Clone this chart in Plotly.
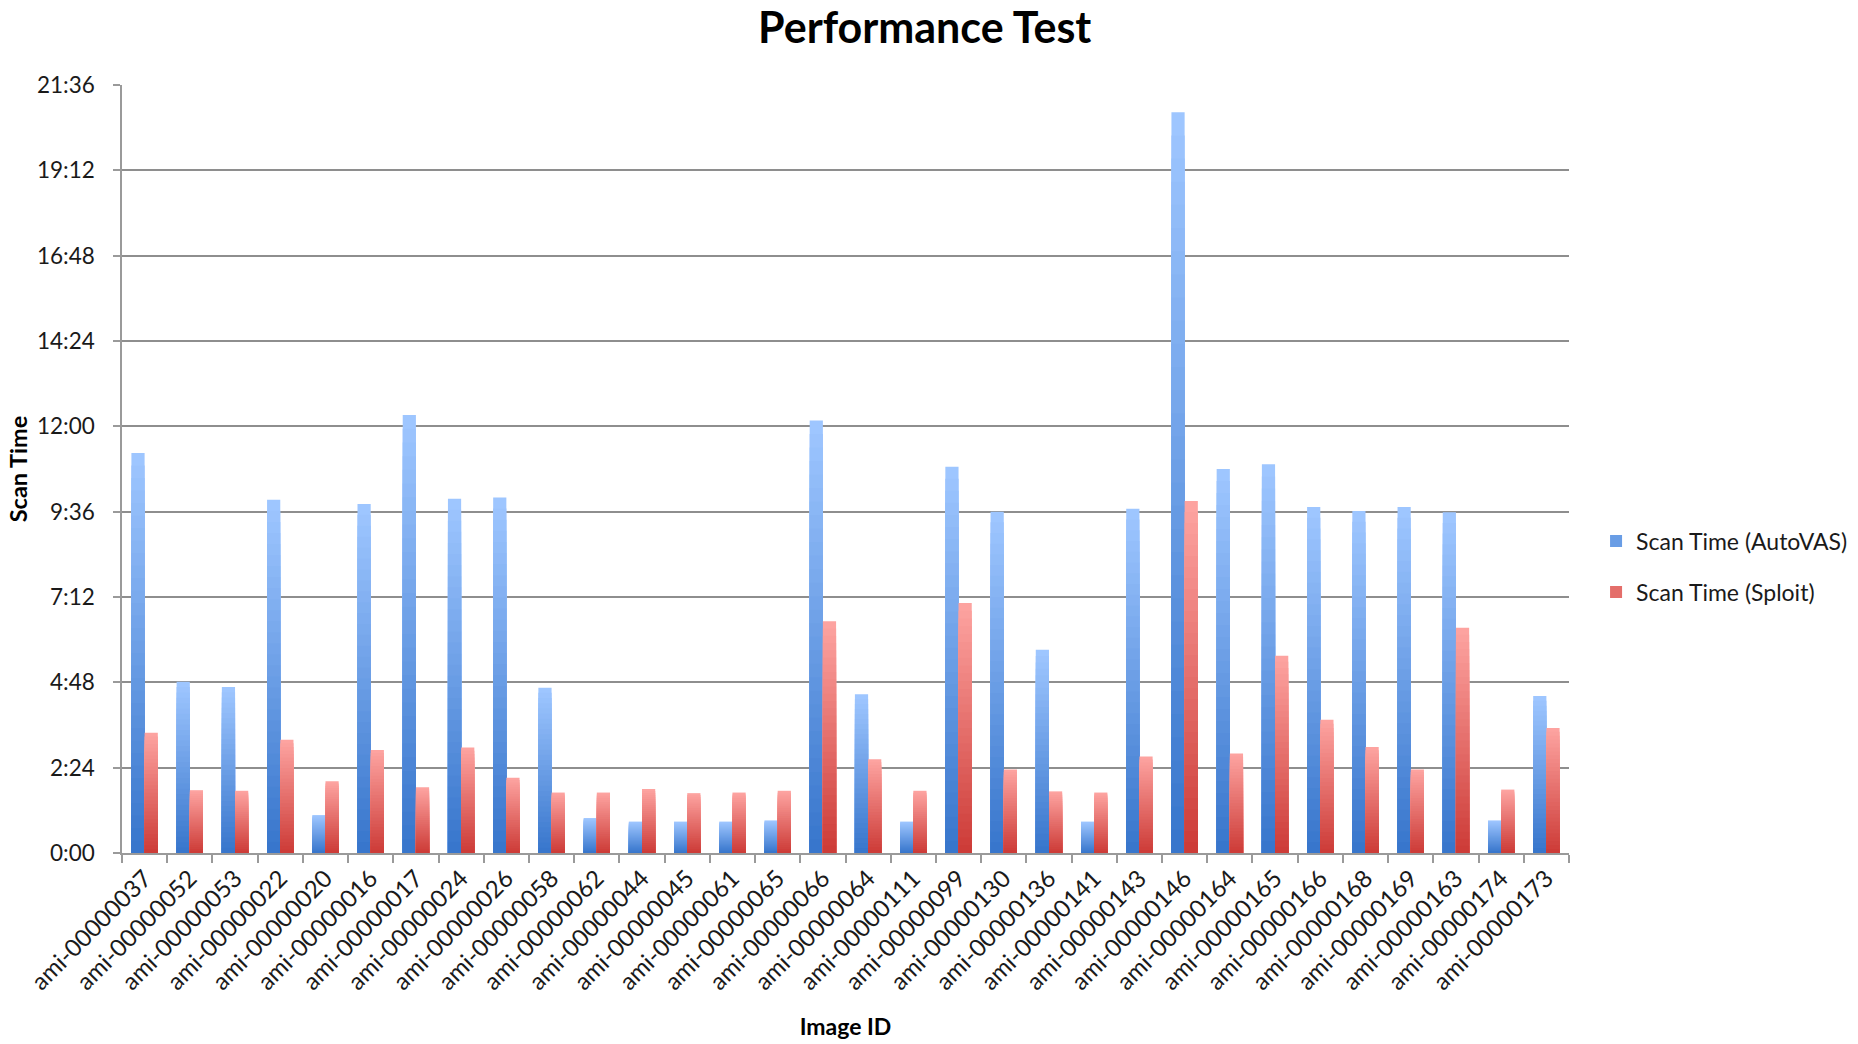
import plotly.graph_objects as go

# Scan time per image, in seconds
image_ids = [
    "ami-00000037", "ami-00000052", "ami-00000053", "ami-00000022", "ami-00000020",
    "ami-00000016", "ami-00000017", "ami-00000024", "ami-00000026", "ami-00000058",
    "ami-00000062", "ami-00000044", "ami-00000045", "ami-00000061", "ami-00000065",
    "ami-00000066", "ami-00000064", "ami-00000111", "ami-00000099", "ami-00000130",
    "ami-00000136", "ami-00000141", "ami-00000143", "ami-00000146", "ami-00000164",
    "ami-00000165", "ami-00000166", "ami-00000168", "ami-00000169", "ami-00000163",
    "ami-00000174", "ami-00000173",
]
autovas_seconds = [
    675, 289, 280, 596, 64, 589, 739, 598, 600, 279,
    59, 53, 53, 53, 55, 730, 268, 53, 652, 576,
    343, 53, 581, 1250, 648, 656, 584, 577, 584, 575,
    55, 265,
]
sploit_seconds = [
    203, 106, 105, 191, 121, 174, 111, 178, 127, 102,
    102, 108, 101, 102, 105, 391, 158, 105, 422, 141,
    104, 102, 163, 594, 168, 333, 225, 179, 141, 380,
    107, 211,
]
tick_seconds = [0, 144, 288, 432, 576, 720, 864, 1008, 1152, 1296]
tick_labels = ["0:00", "2:24", "4:48", "7:12", "9:36", "12:00", "14:24", "16:48", "19:12", "21:36"]

FONT = "Lato, 'Open Sans', sans-serif"
STEPS = 32          # bands used to shade each bar from light (top) to dark (bottom)
BAR_W = 0.292       # bar width in category units


def mmss(sec):
    sec = int(round(sec))
    return f"{sec // 60}:{sec % 60:02d}"


def mix(c1, c2, t):
    return "rgb({},{},{})".format(*[round(a + (b - a) * t) for a, b in zip(c1, c2)])


def add_shaded_series(fig, values, name, top_rgb, bottom_rgb, offset, group):
    for k in range(STEPS):
        frac = (STEPS - k) / STEPS
        t = k / (STEPS - 1)
        fig.add_trace(go.Bar(
            x=image_ids,
            y=[v * frac for v in values],
            offset=offset,
            width=BAR_W,
            name=name,
            legendgroup=group,
            showlegend=(k == STEPS // 2),
            marker=dict(color=mix(top_rgb, bottom_rgb, t), line=dict(width=0)),
            customdata=[mmss(v) for v in values],
            hovertemplate="%{x}<br>" + name + ": %{customdata}<extra></extra>" if k == 0 else None,
            hoverinfo=None if k == 0 else "skip",
        ))


fig = go.Figure()
add_shaded_series(fig, autovas_seconds, "Scan Time (AutoVAS)",
                  (158, 198, 255), (56, 118, 204), -BAR_W, "autovas")
add_shaded_series(fig, sploit_seconds, "Scan Time (Sploit)",
                  (253, 163, 160), (205, 60, 56), 0.0, "sploit")

axis_grey = "#9a9a9a"

fig.update_layout(
    width=1858, height=1044,
    barmode="overlay",
    paper_bgcolor="white", plot_bgcolor="white",
    margin=dict(l=122, r=289, t=85, b=191, autoexpand=False),
    font=dict(family=FONT, color="#1a1a1a"),
    title=dict(
        text="<b>Performance Test</b>",
        font=dict(family=FONT, size=43, color="#000000"),
        x=924.7 / 1858, xref="container", xanchor="center",
        y=1 - 27.5 / 1044, yref="container", yanchor="middle",
    ),
    legend=dict(
        x=1.0187, xanchor="left",
        y=0.373, yanchor="middle",
        font=dict(family=FONT, size=23, color="#1a1a1a"),
        tracegroupgap=18,
        itemclick="toggle", groupclick="togglegroup",
        bgcolor="rgba(0,0,0,0)",
    ),
    xaxis=dict(
        type="category",
        range=[-0.5, len(image_ids) - 0.5],
        showgrid=False,
        showline=True, linecolor=axis_grey, linewidth=1.5,
        ticks="outside", tickson="boundaries", ticklen=8, tickcolor=axis_grey, tickwidth=1.5,
        tickangle=-45,
        tickfont=dict(family=FONT, size=24, color="#1a1a1a"),
        title=dict(text="<b>Image ID</b>", font=dict(family=FONT, size=23, color="#000000"),
                   standoff=25),
        automargin=False,
    ),
    yaxis=dict(
        range=[0, 1296],
        tickmode="array", tickvals=tick_seconds, ticktext=tick_labels,
        showgrid=True, gridcolor="#8e8e8e", gridwidth=1.5,
        showline=True, linecolor=axis_grey, linewidth=1.5,
        ticks="outside", ticklen=7, tickcolor=axis_grey, tickwidth=1.5,
        ticklabelstandoff=14,
        tickfont=dict(family=FONT, size=22.5, color="#1a1a1a"),
        zeroline=False,
        title=dict(text="<b>Scan Time</b>", font=dict(family=FONT, size=23.5, color="#000000"),
                   standoff=3),
        automargin=False,
    ),
)

fig.write_html("out.html")
